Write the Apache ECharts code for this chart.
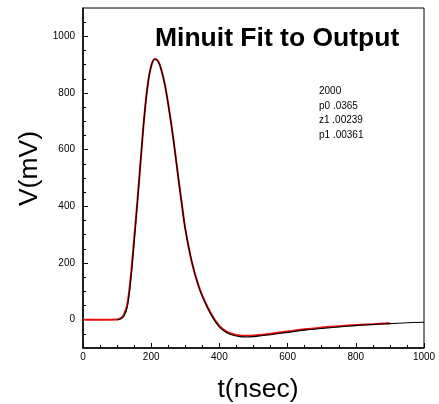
<!DOCTYPE html>
<html>
<head>
<meta charset="utf-8">
<script src="https://cdn.jsdelivr.net/npm/echarts@6/dist/echarts.min.js"></script>
<style>
  html, body { margin: 0; padding: 0; background: #fff; }
  #chart { width: 439px; height: 404px; }
</style>
</head>
<body>
<div id="chart"></div>
<script>
// Measured pulse (red), sampled in ns / mV
const dataT = [0, 50, 100, 110, 120, 130, 140, 150, 160, 170, 180, 190, 200, 210, 220, 230, 240, 250, 260, 270, 280, 290, 300, 320, 340, 360, 380, 400, 420, 440, 460, 480, 500, 550, 600, 650, 700, 750, 800, 850, 900];
const dataV = [0, 0, 1, 5, 18, 55, 150, 285, 425, 575, 720, 830, 895, 920, 913, 880, 830, 760, 680, 592, 497, 407, 320, 198, 116, 57, 12, -22, -41, -51, -56, -57, -56, -50, -42, -34, -28, -23, -19, -16, -13];

// Minuit fit result (black)
const fitT = [100, 110, 120, 130, 140, 150, 160, 170, 180, 190, 200, 210, 220, 230, 240, 250, 260, 270, 280, 290, 300, 320, 340, 360, 380, 400, 420, 440, 460, 480, 500, 550, 600, 650, 700, 750, 800, 850, 900, 950, 1000];
const fitV = [0, 2, 12, 45, 140, 275, 420, 575, 720, 830, 895, 918, 912, 880, 830, 760, 680, 590, 495, 405, 320, 200, 113, 55, 8, -26, -45, -55, -60, -61, -60, -53, -45, -37, -31, -26, -21, -17, -14, -11, -9];

// Fit parameters shown in the stats box
const statLines = ['2000', 'p0 .0365', 'z1 .00239', 'p1 .00361'];

// Axis ticks
const xMajor = [0, 200, 400, 600, 800, 1000];
const xMinor = [0, 50, 100, 150, 200, 250, 300, 350, 400, 450, 500, 550, 600, 650, 700, 750, 800, 850, 900, 950, 1000];
const yMajor = [0, 200, 400, 600, 800, 1000];
const yMinor = [-50, 0, 50, 100, 150, 200, 250, 300, 350, 400, 450, 500, 550, 600, 650, 700, 750, 800, 850, 900, 950, 1000, 1050];

const FONT = '"Liberation Sans", Arial, Helvetica, sans-serif';

const zip = (a, b) => a.map((v, i) => [v, b[i]]);
const plain = (v) => String(v);

const chart = echarts.init(document.getElementById('chart'), null, { renderer: 'canvas' });

const baseX = { type: 'value', min: 0, max: 1000, gridIndex: 0, splitLine: { show: false } };
const baseY = { type: 'value', min: -100, max: 1100, gridIndex: 0, splitLine: { show: false } };

chart.setOption({
  animation: false,
  backgroundColor: '#fff',
  grid: {
    left: 83, top: 8, width: 341, height: 340,
    outerBoundsMode: 'none', containLabel: false,
    show: true, borderColor: '#000', borderWidth: 1, backgroundColor: 'transparent'
  },
  title: {
    text: 'Minuit Fit to Output',
    left: 150, top: 20,
    textStyle: { fontFamily: FONT, fontWeight: 'bold', fontSize: 26.5, color: '#000' }
  },
  xAxis: [
    Object.assign({}, baseX, {
      position: 'bottom',
      name: 't(nsec)', nameLocation: 'middle', nameGap: 28,
      nameTextStyle: { fontFamily: FONT, fontSize: 26.5, color: '#000', padding: [0, 0, 0, 9] },
      axisLine: { show: true, onZero: false, lineStyle: { color: '#000', width: 1.5 } },
      axisTick: { show: true, inside: true, length: 5, customValues: xMajor, lineStyle: { color: '#000', width: 1 } },
      axisLabel: { show: true, customValues: xMajor, formatter: plain, margin: 4, fontFamily: FONT, fontSize: 10, color: '#000' }
    }),
    Object.assign({}, baseX, {
      position: 'bottom',
      axisLine: { show: false, onZero: false },
      axisTick: { show: true, inside: true, length: 3, customValues: xMinor, lineStyle: { color: '#000', width: 1 } },
      axisLabel: { show: false }
    })
  ],
  yAxis: [
    Object.assign({}, baseY, {
      position: 'left',
      axisLine: { show: true, onZero: false, lineStyle: { color: '#000', width: 1.5 } },
      axisTick: { show: true, inside: true, length: 5, customValues: yMajor, lineStyle: { color: '#000', width: 1 } },
      axisLabel: { show: true, customValues: yMajor, formatter: plain, margin: 8, fontFamily: FONT, fontSize: 10, color: '#000' }
    }),
    Object.assign({}, baseY, {
      position: 'left',
      axisLine: { show: false, onZero: false },
      axisTick: { show: true, inside: true, length: 3, customValues: yMinor, lineStyle: { color: '#000', width: 1 } },
      axisLabel: { show: false }
    })
  ],
  graphic: [
    {
      type: 'text', left: 16, top: 131, rotation: Math.PI / 2,
      style: { text: 'V(mV)', fontFamily: FONT, fontSize: 26.5, fill: '#000' }
    },
    {
      type: 'text', left: 319, top: 84,
      style: { text: statLines.join('\n'), fontFamily: FONT, fontSize: 10, lineHeight: 14.5, fill: '#000' }
    }
  ],
  series: [
    {
      name: 'data', type: 'line', xAxisIndex: 0, yAxisIndex: 0,
      data: zip(dataT, dataV), smooth: 0.35, showSymbol: false, symbol: 'none',
      lineStyle: { color: '#e8100f', width: 2 }, z: 2
    },
    {
      name: 'fit', type: 'line', xAxisIndex: 0, yAxisIndex: 0,
      data: zip(fitT, fitV), smooth: 0.35, showSymbol: false, symbol: 'none',
      lineStyle: { color: '#000', width: 1.1 }, z: 3
    }
  ]
});
</script>
</body>
</html>
